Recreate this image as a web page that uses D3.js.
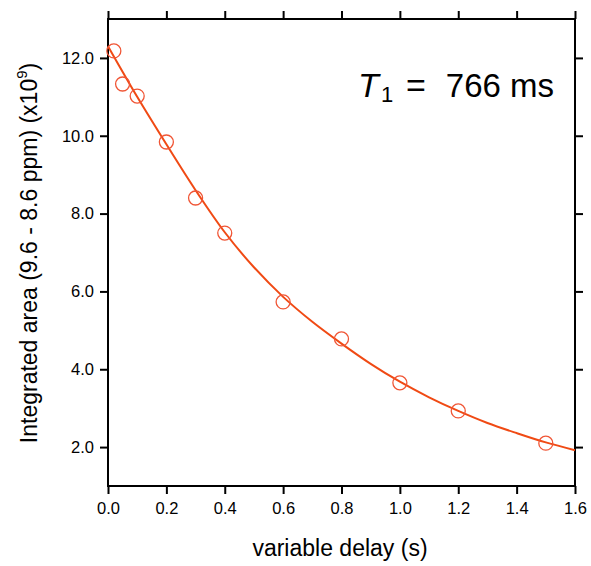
<!DOCTYPE html>
<html><head><meta charset="utf-8">
<script src="https://cdn.jsdelivr.net/npm/d3@7"></script>
<style>body{margin:0;background:#fff;} text{font-family:"Liberation Sans",Arial,sans-serif;}</style>
</head><body><svg id="c" width="591" height="566"></svg>
<script>
const delays = [0.02, 0.05, 0.1, 0.2, 0.3, 0.4, 0.6, 0.8, 1.0, 1.2, 1.5];
const areas = [12.18, 11.33, 11.02, 9.84, 8.40, 7.50, 5.73, 4.78, 3.65, 2.93, 2.10];
const fitT = [0, 0.1, 0.2, 0.3, 0.4, 0.5, 0.6, 0.7, 0.8, 0.9, 1.0, 1.1, 1.2, 1.3, 1.4, 1.5, 1.6];
const fitY = [12.30, 11.00, 9.78, 8.60, 7.52, 6.62, 5.86, 5.22, 4.66, 4.14, 3.68, 3.28, 2.93, 2.62, 2.36, 2.12, 1.92];
const xTicks = [0.0, 0.2, 0.4, 0.6, 0.8, 1.0, 1.2, 1.4, 1.6];
const yTicks = [2.0, 4.0, 6.0, 8.0, 10.0, 12.0];

const svg = d3.select("#c");
const L = 108, R = 575, T = 19, B = 486;
const x = d3.scaleLinear().domain([0, 1.6]).range([L, R]);
const y = d3.scaleLinear().domain([1, 13]).range([B, T]);
const col = "#f04a14";

const tl = 8;
function styleAxis(g){ g.select(".domain").remove(); g.selectAll(".tick line").attr("stroke","#000").attr("stroke-width",2); g.selectAll("text").attr("font-size",16.5).attr("fill","#000").attr("font-family","Liberation Sans, Arial, sans-serif"); }
svg.append("g").attr("transform",`translate(0,${B})`).call(d3.axisBottom(x).tickValues(xTicks).tickFormat(d3.format(".1f")).tickSize(tl).tickPadding(8.5)).call(styleAxis);
svg.append("g").attr("transform",`translate(0,${T})`).call(d3.axisTop(x).tickValues(xTicks).tickFormat("").tickSize(tl)).call(styleAxis);
svg.append("g").attr("transform",`translate(${L},0)`).call(d3.axisLeft(y).tickValues(yTicks).tickFormat(d3.format(".1f")).tickSize(tl).tickPadding(6)).call(styleAxis);
svg.append("g").attr("transform",`translate(${R},0)`).call(d3.axisRight(y).tickValues(yTicks).tickFormat("").tickSize(tl)).call(styleAxis);
svg.append("rect").attr("x",L).attr("y",T).attr("width",R-L).attr("height",B-T).attr("fill","none").attr("stroke","#000").attr("stroke-width",2);

// fit curve
const fit = fitT.map((t,i)=>[t,fitY[i]]);
svg.append("path").datum(fit).attr("fill","none").attr("stroke",col).attr("stroke-width",2)
  .attr("d", d3.line().x(d=>x(d[0])).y(d=>y(d[1])).curve(d3.curveCatmullRom));

svg.selectAll("circle.pt").data(delays).enter().append("circle").attr("class","pt")
  .attr("cx",d=>x(d)).attr("cy",(d,i)=>y(areas[i])).attr("r",7)
  .attr("fill","none").attr("stroke","#f05535").attr("stroke-width",1.3);

// annotation
svg.append("text").attr("x",358).attr("y",97).attr("font-size",34).attr("font-style","italic").attr("fill","#000").text("T");
svg.append("text").attr("x",381).attr("y",102).attr("font-size",22).attr("fill","#000").text("1");
svg.append("text").attr("x",416).attr("y",97).attr("font-size",34).attr("text-anchor","middle").attr("fill","#000").text("=");
svg.append("text").attr("x",554).attr("y",97).attr("font-size",33).attr("text-anchor","end").attr("fill","#000").text("766 ms");

// axis titles
svg.append("text").attr("x",340).attr("y",556).attr("text-anchor","middle").attr("font-size",23).attr("fill","#000").text("variable delay (s)");
const yl = svg.append("text").attr("transform","translate(37,253) rotate(-90)").attr("text-anchor","middle").attr("font-size",23).attr("fill","#000");
yl.append("tspan").text("Integrated area (9.6 - 8.6 ppm) (x10");
yl.append("tspan").attr("font-size",15).attr("dy",-10).text("9");
yl.append("tspan").attr("dy",10).text(")");
</script></body></html>
